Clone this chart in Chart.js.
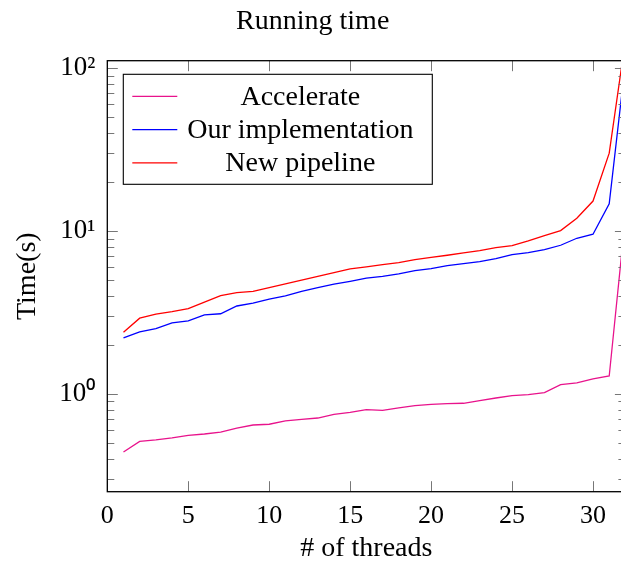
<!DOCTYPE html>
<html><head><meta charset="utf-8">
<script src="https://cdn.jsdelivr.net/npm/chart.js@4/dist/chart.umd.min.js"></script>
<style>
html,body{margin:0;padding:0;overflow:hidden;background:#fff;width:621px;height:567px;}
#wrap{position:relative;width:640px;height:567px;}
</style></head><body>
<div id="wrap"><canvas id="c" width="640" height="567"></canvas></div>
<script>
// ---- data ----
const threads = [1,2,3,4,5,6,7,8,9,10,11,12,13,14,15,16,17,18,19,20,21,22,23,24,25,26,27,28,29,30,31,32];
const accelerate = [0.44,0.512,0.522,0.537,0.557,0.568,0.584,0.618,0.645,0.652,0.683,0.699,0.712,0.75,0.771,0.801,0.794,0.821,0.848,0.864,0.872,0.877,0.910,0.945,0.976,0.99,1.02,1.14,1.17,1.24,1.29,12.2];
const ourImplementation = [2.21,2.41,2.52,2.73,2.81,3.06,3.11,3.47,3.61,3.82,4.01,4.27,4.50,4.72,4.92,5.14,5.28,5.46,5.72,5.88,6.14,6.31,6.50,6.78,7.17,7.38,7.70,8.19,9.04,9.57,14.7,108];
const newPipeline = [2.39,2.92,3.09,3.20,3.34,3.67,4.02,4.19,4.27,4.50,4.75,5.01,5.28,5.56,5.86,6.03,6.22,6.40,6.68,6.91,7.11,7.35,7.59,7.92,8.15,8.71,9.38,10.07,12.0,15.3,30.1,149];
const seriesLabels = ['Accelerate','Our implementation','New pipeline'];
const xTickValues = [0,5,10,15,20,25,30];
const yMajorTicks = [1,10,100];
const yMajorLabels = ['10\u2070','10\u00b9','10\u00b2'];
const yMinorTicks = [0.3,0.4,0.5,0.6,0.7,0.8,0.9,2,3,4,5,6,7,8,9,20,30,40,50,60,70,80,90];
const xRange = [0,32];
const yRange = [0.2512,111.3];

const FONT = "'Liberation Serif','Times New Roman',serif";
const colors = ['#e8138c','#0000ff','#ff0000'];

function pts(arr){ return threads.map((t,i)=>({x:t,y:arr[i]})); }

const framePlugin = {
  id:'frame',
  afterDraw(chart){
    const ctx = chart.ctx, a = chart.chartArea;
    const xs = chart.scales.x, ys = chart.scales.y;
    ctx.save();
    // inward ticks
    ctx.strokeStyle = '#777';
    ctx.lineWidth = 1;
    const yAll = yMajorTicks.map(v=>[v,10.5]).concat(yMinorTicks.map(v=>[v,7]));
    yAll.forEach(([v,len])=>{
      const p = Math.round(ys.getPixelForValue(v))+0.5;
      ctx.beginPath(); ctx.moveTo(a.left, p); ctx.lineTo(a.left+len, p); ctx.stroke();
      ctx.beginPath(); ctx.moveTo(a.right, p); ctx.lineTo(a.right-len, p); ctx.stroke();
    });
    xTickValues.forEach(v=>{
      const p = Math.round(xs.getPixelForValue(v))+0.5;
      ctx.beginPath(); ctx.moveTo(p, a.bottom); ctx.lineTo(p, a.bottom-10.5); ctx.stroke();
      ctx.beginPath(); ctx.moveTo(p, a.top); ctx.lineTo(p, a.top+10.5); ctx.stroke();
    });
    // frame
    ctx.strokeStyle = '#000';
    ctx.lineWidth = 1.3;
    ctx.strokeRect(a.left, a.top, a.right-a.left, a.bottom-a.top);
    // legend
    ctx.font = '28px ' + FONT;
    const bx = a.left + 16, by = a.top + 13.6;
    const bw = 309, bh = 110;
    const sampleL = bx + 9, sampleR = bx + 54;
    const textCenter = bx + 177;
    ctx.fillStyle = '#fff';
    ctx.fillRect(bx, by, bw, bh);
    ctx.lineWidth = 1.1;
    ctx.strokeStyle = '#000';
    ctx.strokeRect(bx, by, bw, bh);
    ctx.textAlign = 'center';
    ctx.textBaseline = 'middle';
    chart.data.datasets.forEach((ds,i)=>{
      const yy = by + 22 + 33.3*i;
      ctx.strokeStyle = ds.borderColor; ctx.lineWidth = 1.3;
      ctx.beginPath(); ctx.moveTo(sampleL, yy); ctx.lineTo(sampleR, yy); ctx.stroke();
      ctx.fillStyle = '#000';
      ctx.fillText(ds.label, textCenter, yy+1);
    });
    ctx.restore();
  }
};

new Chart(document.getElementById('c'), {
  type:'line',
  data:{
    datasets:[
      {label:seriesLabels[0], data:pts(accelerate), borderColor:colors[0]},
      {label:seriesLabels[1], data:pts(ourImplementation), borderColor:colors[1]},
      {label:seriesLabels[2], data:pts(newPipeline), borderColor:colors[2]}
    ]
  },
  options:{
    responsive:false, animation:false, devicePixelRatio:1,
    layout:{padding:{left:0,right:14.6,top:0,bottom:0}},
    elements:{point:{radius:0}, line:{borderWidth:1.3, tension:0, fill:false}},
    plugins:{
      legend:{display:false}, tooltip:{enabled:false},
      title:{display:true, text:'Running time', color:'#000',
        font:{family:FONT, size:28, weight:'normal', lineHeight:1.2},
        padding:{top:5.2, bottom:21.9}}
    },
    scales:{
      x:{type:'linear', min:xRange[0], max:xRange[1], bounds:'data',
        grid:{display:false, drawTicks:false}, border:{display:false},
        afterBuildTicks:(s)=>{ s.ticks = xTickValues.map(v=>({value:v})); },
        afterFit:(s)=>{ s.height = 75.3; },
        ticks:{color:'#000', padding:9, maxRotation:0, autoSkip:false,
          font:{family:FONT, size:26}, callback:(v)=>String(v)},
        title:{display:true, text:'# of threads', color:'#000',
          font:{family:FONT, size:28, lineHeight:1.2}, padding:{top:0,bottom:2}}
      },
      y:{type:'logarithmic', min:yRange[0], max:yRange[1], bounds:'data',
        grid:{display:false, drawTicks:false}, border:{display:false},
        afterBuildTicks:(s)=>{ s.ticks = yMajorTicks.concat(yMinorTicks).sort((a,b)=>a-b).map(v=>({value:v})); },
        afterFit:(s)=>{ s.width = 107.3; },
        ticks:{color:'#000', padding:12, autoSkip:false,
          font:{family:FONT, size:27},
          callback:(v)=>{ const k = yMajorTicks.indexOf(v); return k>=0 ? yMajorLabels[k] : ''; }},
        title:{display:true, text:'Time(s)', color:'#000',
          font:{family:FONT, size:28, lineHeight:1.2}, padding:{top:11,bottom:0}}
      }
    }
  },
  plugins:[framePlugin]
});
</script>
</body></html>
